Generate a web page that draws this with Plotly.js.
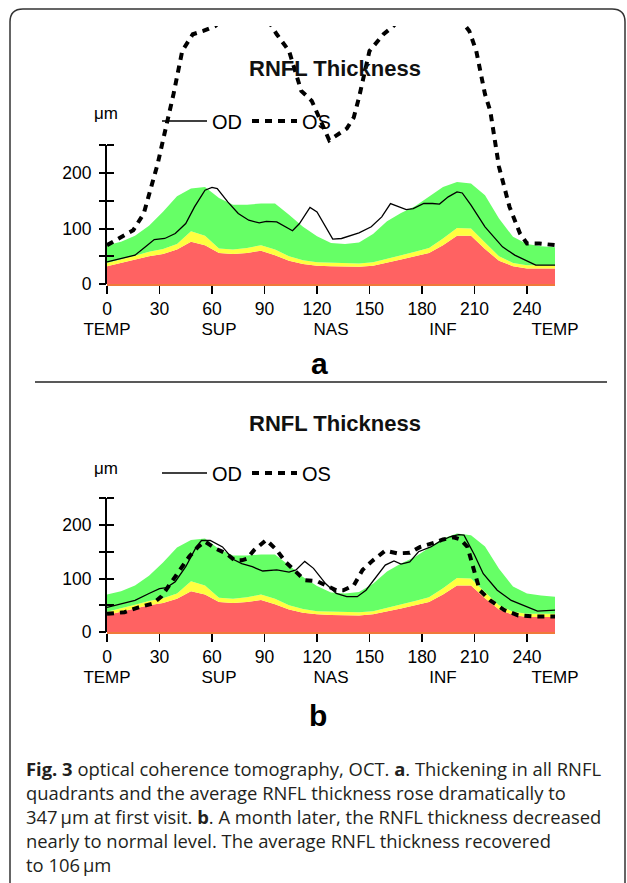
<!DOCTYPE html>
<html>
<head>
<meta charset="utf-8">
<script src="https://cdn.plot.ly/plotly-3.0.1.min.js"></script>
<style>html,body{margin:0;padding:0;background:#fff;}#chart{width:627px;height:883px;}</style>
</head>
<body>
<div id="chart"></div>
<script>
// ---------------- DATA ----------------
// Normative bands (µm) along the scan circle (0..256 samples)
const normX      = [0,8,16,24,32,40,48,56,64,72,80,88,96,104,112,120,128,136,144,152,160,168,176,184,192,200,208,216,224,232,240,248,256];
const normRed    = [32,38,44,50,54,62,76,70,56,54,56,60,52,42,36,33,32,31,31,33,38,44,50,56,70,87,87,63,42,32,28,28,28];
const normYellow = [38,44,51,58,63,72,95,87,64,62,65,70,62,50,43,39,38,37,37,39,45,52,58,65,82,101,100,75,50,38,34,34,34];
const normGreen  = [70,76,87,105,130,158,172,175,155,143,143,145,145,125,103,86,74,72,75,90,113,128,140,158,175,184,181,160,118,85,72,68,66];

// Panel a (first visit)
const odAX = [0,8,16,22,27,33,39,45,50,56,60,63,69,75,81,87,91,97,102,106,110,116,120,125,129,134,144,151,157,162,166,171,175,181,186,190,195,200,203,208,216,226,233,239,245,256];
const odAY = [40,46,52,67,80,82,91,109,139,169,174,172,148,127,115,110,113,112,103,96,109,138,130,103,81,82,92,103,121,145,140,134,136,145,145,144,157,166,164,142,103,67,52,43,34,34];
const osAX = [0,7,15,21,25,29,32,38,43,49,55,62,70,80,90,97,104,111,117,127,137,141,144,150,158,163,175,190,201,207,211,216,219,224,230,236,240,247,256];
const osAY = [70,82,97,127,169,217,259,342,420,450,456,465,490,500,485,450,420,348,330,259,280,300,336,420,450,463,500,505,480,456,420,342,312,211,139,91,73,73,70];

// Panel b (one month later)
const odBX = [0,8,16,24,30,34,39,45,51,54,59,66,72,77,83,89,97,104,108,113,118,125,131,137,143,148,154,159,164,168,173,178,185,190,196,201,204,210,215,223,231,240,246,256];
const odBY = [46,52,59,72,81,83,94,122,159,171,171,159,136,128,122,114,116,112,116,132,119,90,72,66,66,78,103,125,133,127,131,150,159,169,178,182,181,144,109,78,59,47,39,41];
const osBX = [0,10,18,26,31,37,43,47,52,56,62,68,73,77,80,84,91,97,102,108,113,120,126,131,135,141,146,152,159,166,173,179,187,192,198,202,206,209,210,213,219,227,235,244,256];
const osBY = [34,37,46,53,66,94,122,141,159,169,156,147,134,134,137,153,172,153,131,112,97,95,86,78,78,87,116,134,152,147,148,159,167,173,177,173,159,128,112,78,59,41,31,29,29];

// Tick labels
const degTicks   = [0,30,60,90,120,150,180,210,240];
const quadTicks  = [0,64,128,192,256];
const quadLabels = ['TEMP','SUP','NAS','INF','TEMP'];
const umTicks    = [0,50,100,150,200,250];
const umLabels   = ['0','','100','','200',''];

// ---------------- LAYOUT HELPERS ----------------
const W = 627, H = 883;
const X = px => px / W;
const Y = py => 1 - py / H;
const TICKF = 'Liberation Sans, Arial, sans-serif';
const RED = '#ff6262', YEL = '#ffff40', GRN = '#66ff66';

const xLeft = 107, xRight = 555;               // pixels for 0 and 256
const pA = {y0: 284, ppu: 0.555, top: 26};      // panel a
const pB = {y0: 632, ppu: 0.535, top: 493};     // panel b
const rangeTop = p => (p.y0 - p.top) / p.ppu;

function bands(xa, ya) {
  const base = {x: normX, mode: 'lines', line: {width: 0}, xaxis: xa, yaxis: ya, showlegend: false, hoverinfo: 'skip'};
  return [
    Object.assign({}, base, {y: normRed, fill: 'tozeroy', fillcolor: RED}),
    Object.assign({}, base, {y: normYellow, fill: 'tonexty', fillcolor: YEL}),
    Object.assign({}, base, {y: normGreen, fill: 'tonexty', fillcolor: GRN})
  ];
}
function curves(odx, ody, osx, osy, xa, ya, lg) {
  return [
    {x: odx, y: ody, name: 'OD', mode: 'lines', xaxis: xa, yaxis: ya, legend: lg,
     line: {color: '#000', width: 1.3}},
    {x: osx, y: osy, name: 'OS', mode: 'lines', xaxis: xa, yaxis: ya, legend: lg,
     line: {color: '#000', width: 4, dash: '7px,6px'}}
  ];
}
// empty carriers so that the decorative overlay axes get drawn
function carrier(xa, ya) {
  return {x: [], y: [], mode: 'lines', xaxis: xa, yaxis: ya, showlegend: false, hoverinfo: 'skip'};
}

const data = [].concat(
  bands('x', 'y'), curves(odAX, odAY, osAX, osAY, 'x', 'y', 'legend'),
  bands('x2', 'y2'), curves(odBX, odBY, osBX, osBY, 'x2', 'y2', 'legend2'),
  [carrier('x3', 'y3'), carrier('x4', 'y4'), carrier('x', 'y5'), carrier('x2', 'y6')]
);

function mainX(anchor) {
  return {domain: [X(xLeft), X(xRight)], range: [0, 256], anchor: anchor,
    tickmode: 'array', tickvals: degTicks, ticktext: degTicks.map(String),
    ticks: 'outside', ticklen: 8, tickwidth: 1.5, tickcolor: '#000',
    showline: true, linecolor: '#f07a3a', linewidth: 2,
    showgrid: false, zeroline: false, ticklabelstandoff: 0,
    tickfont: {family: TICKF, size: 17.5, color: '#000'}, fixedrange: true};
}
function quadX(over, anchor) {
  return {overlaying: over, anchor: anchor, range: [0, 256], side: 'bottom',
    tickmode: 'array', tickvals: quadTicks, ticktext: quadLabels,
    ticks: '', showline: false, showgrid: false, zeroline: false,
    ticklabelstandoff: 33, tickfont: {family: TICKF, size: 17, color: '#000'}};
}
function mainY(p, anchor) {
  return {domain: [Y(p.y0), Y(p.top)], range: [0, rangeTop(p)], anchor: anchor,
    tickmode: 'array', tickvals: umTicks, ticktext: umLabels,
    ticks: 'outside', ticklen: 7, tickwidth: 2, tickcolor: '#000',
    showline: false, showgrid: false, zeroline: false, ticklabelstandoff: 4,
    tickfont: {family: TICKF, size: 17.5, color: '#000'}, fixedrange: true};
}
function innerY(p, over, anchor) {
  return {overlaying: over, anchor: anchor, range: [0, rangeTop(p)],
    tickmode: 'array', tickvals: umTicks, ticks: 'inside', ticklen: 7, tickwidth: 2,
    tickcolor: '#000', showticklabels: false, showline: false, showgrid: false, zeroline: false};
}
function lineY(p, anchor) {
  return {domain: [Y(p.y0), Y(p.y0 - 250 * p.ppu)], range: [0, 250], anchor: anchor,
    showline: true, linecolor: '#000', linewidth: 2, ticks: '', showticklabels: false,
    showgrid: false, zeroline: false};
}
function legendAt(py) {
  return {x: X(157), y: Y(py), xanchor: 'left', yanchor: 'middle', orientation: 'h',
    traceorder: 'normal', itemwidth: 45,
    bgcolor: 'rgba(0,0,0,0)', borderwidth: 0, itemclick: false, itemdoubleclick: false,
    font: {family: TICKF, size: 20, color: '#000'}};
}
function ann(text, px, py, font, extra) {
  return Object.assign({text: text, x: X(px), y: Y(py), xref: 'paper', yref: 'paper',
    showarrow: false, xanchor: 'center', yanchor: 'middle', font: font}, extra || {});
}
const TITLE_FONT = {family: 'Liberation Sans, Arial, sans-serif', size: 22, color: '#111', weight: 'bold'};
const PANEL_FONT = {family: 'Liberation Sans, Arial, sans-serif', size: 30, color: '#000', weight: 'bold'};
const CAP_FONT = {family: 'Open Sans, sans-serif', size: 18.4, color: '#231f20'};

const caption = [
  '<b>Fig. 3</b> optical coherence tomography, OCT. <b>a</b>. Thickening in all RNFL',
  'quadrants and the average RNFL thickness rose dramatically to',
  '347\u2009\u03bcm at first visit. <b>b</b>. A month later, the RNFL thickness decreased',
  'nearly to normal level. The average RNFL thickness recovered',
  'to 106\u2009\u03bcm'
].join('<br>');

const framePath = 'M ' + X(10) + ',' + Y(900) + ' L ' + X(10) + ',' + Y(22) +
  ' Q ' + X(10) + ',' + Y(9) + ' ' + X(23) + ',' + Y(9) +
  ' L ' + X(612) + ',' + Y(9) + ' Q ' + X(625) + ',' + Y(9) + ' ' + X(625) + ',' + Y(22) +
  ' L ' + X(625) + ',' + Y(900);

const annotations = [
  ann('RNFL Thickness', 335, 68, TITLE_FONT),
  ann('RNFL Thickness', 335, 423, TITLE_FONT),
  ann('\u03bcm', 106, 114, {family: TICKF, size: 17, color: '#000'}),
  ann('\u03bcm', 106, 468, {family: TICKF, size: 17, color: '#000'}),
  ann('a', 319, 363, PANEL_FONT),
  ann('b', 318, 715, PANEL_FONT),
  ann(caption, 24, 754, CAP_FONT, {xanchor: 'left', yanchor: 'top', align: 'left'})
];

const layout = {
  width: W, height: H, margin: {l: 0, r: 0, t: 0, b: 0},
  paper_bgcolor: '#fff', plot_bgcolor: 'rgba(0,0,0,0)',
  xaxis: mainX('y'), xaxis2: mainX('y2'),
  xaxis3: quadX('x', 'y'), xaxis4: quadX('x2', 'y2'),
  yaxis: mainY(pA, 'x'), yaxis2: mainY(pB, 'x2'),
  yaxis3: innerY(pA, 'y', 'x3'), yaxis4: innerY(pB, 'y2', 'x4'),
  yaxis5: lineY(pA, 'x'), yaxis6: lineY(pB, 'x2'),
  legend: legendAt(121), legend2: legendAt(473),
  annotations: annotations,
  shapes: [
    {type: 'path', path: framePath, xref: 'paper', yref: 'paper', line: {color: '#333', width: 1.5}},
    {type: 'line', xref: 'paper', yref: 'paper', x0: X(35), x1: X(607), y0: Y(382), y1: Y(382),
     line: {color: '#222', width: 1.5}}
  ],
  showlegend: true
};

Plotly.newPlot('chart', data, layout, {staticPlot: true, displayModeBar: false});
</script>
</body>
</html>
